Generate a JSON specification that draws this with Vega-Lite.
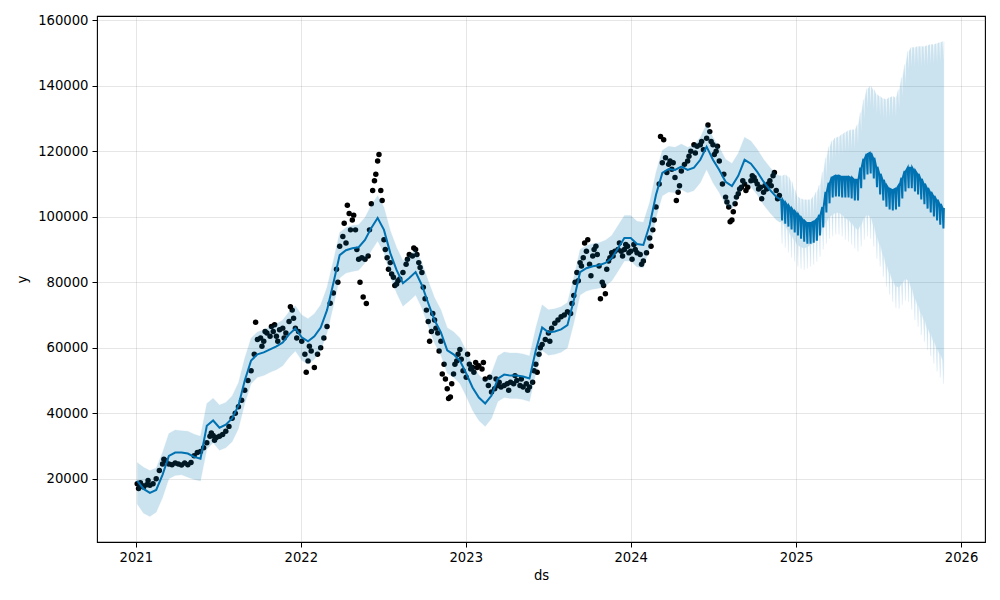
{
"$schema": "https://vega.github.io/schema/vega-lite/v6.json",
"width": 888, "height": 526,
"autosize": {"type": "none"},
"padding": {"left": 97, "top": 16, "right": 15, "bottom": 58},
"background": "white",
"config": {
  "view": {"stroke": "black", "strokeWidth": 1.1},
  "axis": {"labelFont": "DejaVu Sans", "labelFontSize": 13.2, "labelColor": "black", "titleFont": "DejaVu Sans", "titleFontSize": 13.2, "titleFontWeight": "normal", "titleColor": "black", "tickColor": "black", "tickSize": 5, "tickWidth": 1, "labelPadding": 4, "domain": false, "grid": true, "gridColor": "#808080", "gridOpacity": 0.2, "gridWidth": 1}
},
"datasets": {
"obs": [
{"ds":"2021-01-04","y":18500},{"ds":"2021-01-07","y":17000},{"ds":"2021-01-11","y":18800},{"ds":"2021-01-14","y":18000},{"ds":"2021-01-18","y":17500},{"ds":"2021-01-25","y":18200},{"ds":"2021-01-28","y":19500},
{"ds":"2021-02-01","y":18000},{"ds":"2021-02-08","y":18500},{"ds":"2021-02-15","y":20000},{"ds":"2021-02-22","y":22500},
{"ds":"2021-03-01","y":24500},{"ds":"2021-03-04","y":26000},{"ds":"2021-03-08","y":25500},{"ds":"2021-03-15","y":24500},{"ds":"2021-03-22","y":24300},{"ds":"2021-03-29","y":24800},
{"ds":"2021-04-05","y":24500},{"ds":"2021-04-12","y":24200},{"ds":"2021-04-19","y":24800},{"ds":"2021-04-26","y":24300},
{"ds":"2021-05-03","y":25000},{"ds":"2021-05-10","y":27000},{"ds":"2021-05-17","y":28000},{"ds":"2021-05-24","y":28300},{"ds":"2021-05-31","y":29500},
{"ds":"2021-06-07","y":31000},{"ds":"2021-06-14","y":33000},{"ds":"2021-06-17","y":34000},{"ds":"2021-06-21","y":33200},{"ds":"2021-06-24","y":31800},{"ds":"2021-06-28","y":32600},
{"ds":"2021-07-05","y":33000},{"ds":"2021-07-12","y":33500},{"ds":"2021-07-19","y":34500},{"ds":"2021-07-26","y":36000},
{"ds":"2021-08-02","y":38500},{"ds":"2021-08-09","y":40000},{"ds":"2021-08-16","y":42000},{"ds":"2021-08-23","y":44000},{"ds":"2021-08-30","y":47000},
{"ds":"2021-09-06","y":50000},{"ds":"2021-09-13","y":53000},{"ds":"2021-09-20","y":58000},{"ds":"2021-09-23","y":67800},{"ds":"2021-09-27","y":62500},
{"ds":"2021-10-04","y":63000},{"ds":"2021-10-07","y":60500},{"ds":"2021-10-11","y":62000},{"ds":"2021-10-14","y":65000},{"ds":"2021-10-18","y":64500},{"ds":"2021-10-25","y":63500},{"ds":"2021-10-28","y":66500},
{"ds":"2021-11-01","y":65000},{"ds":"2021-11-04","y":67000},{"ds":"2021-11-08","y":63500},{"ds":"2021-11-11","y":62000},{"ds":"2021-11-15","y":65500},{"ds":"2021-11-22","y":66000},{"ds":"2021-11-25","y":63000},{"ds":"2021-11-29","y":64500},
{"ds":"2021-12-06","y":68000},{"ds":"2021-12-09","y":72500},{"ds":"2021-12-13","y":71500},{"ds":"2021-12-16","y":69000},{"ds":"2021-12-20","y":66000},{"ds":"2021-12-23","y":63000},{"ds":"2021-12-27","y":65000},
{"ds":"2022-01-03","y":62000},{"ds":"2022-01-10","y":58000},{"ds":"2022-01-13","y":52500},{"ds":"2022-01-17","y":56000},{"ds":"2022-01-20","y":60500},{"ds":"2022-01-24","y":59000},{"ds":"2022-01-31","y":54000},
{"ds":"2022-02-07","y":58000},{"ds":"2022-02-14","y":60000},{"ds":"2022-02-21","y":63000},{"ds":"2022-02-28","y":66500},
{"ds":"2022-03-07","y":73600},{"ds":"2022-03-14","y":76700},{"ds":"2022-03-21","y":84000},{"ds":"2022-03-24","y":80000},{"ds":"2022-03-28","y":91000},
{"ds":"2022-04-04","y":94000},{"ds":"2022-04-07","y":98000},{"ds":"2022-04-11","y":92000},{"ds":"2022-04-14","y":103500},{"ds":"2022-04-18","y":101000},{"ds":"2022-04-21","y":96000},{"ds":"2022-04-25","y":99000},{"ds":"2022-04-28","y":100500},
{"ds":"2022-05-02","y":96000},{"ds":"2022-05-05","y":90000},{"ds":"2022-05-09","y":87000},{"ds":"2022-05-12","y":80000},{"ds":"2022-05-16","y":87500},{"ds":"2022-05-19","y":75500},{"ds":"2022-05-23","y":87000},{"ds":"2022-05-26","y":73500},{"ds":"2022-05-30","y":88000},
{"ds":"2022-06-02","y":96000},{"ds":"2022-06-06","y":104000},{"ds":"2022-06-09","y":108000},{"ds":"2022-06-13","y":111000},{"ds":"2022-06-16","y":113000},{"ds":"2022-06-20","y":117000},{"ds":"2022-06-23","y":119000},{"ds":"2022-06-27","y":108000},{"ds":"2022-06-30","y":105000},
{"ds":"2022-07-04","y":93000},{"ds":"2022-07-07","y":90000},{"ds":"2022-07-11","y":87500},{"ds":"2022-07-14","y":84000},{"ds":"2022-07-18","y":86000},{"ds":"2022-07-21","y":82500},{"ds":"2022-07-25","y":81500},{"ds":"2022-07-28","y":79000},
{"ds":"2022-08-01","y":79500},{"ds":"2022-08-04","y":80500},{"ds":"2022-08-08","y":81000},{"ds":"2022-08-15","y":83000},{"ds":"2022-08-22","y":85500},{"ds":"2022-08-25","y":87000},{"ds":"2022-08-29","y":88500},
{"ds":"2022-09-05","y":88000},{"ds":"2022-09-08","y":90500},{"ds":"2022-09-12","y":90000},{"ds":"2022-09-15","y":88500},{"ds":"2022-09-19","y":86000},{"ds":"2022-09-22","y":84500},{"ds":"2022-09-26","y":83000},{"ds":"2022-09-29","y":78500},
{"ds":"2022-10-03","y":75000},{"ds":"2022-10-06","y":71500},{"ds":"2022-10-10","y":68000},{"ds":"2022-10-13","y":62000},{"ds":"2022-10-17","y":65000},{"ds":"2022-10-20","y":70500},{"ds":"2022-10-24","y":68500},{"ds":"2022-10-27","y":66000},{"ds":"2022-10-31","y":64500},
{"ds":"2022-11-03","y":59000},{"ds":"2022-11-07","y":62000},{"ds":"2022-11-10","y":52000},{"ds":"2022-11-14","y":55000},{"ds":"2022-11-17","y":50500},{"ds":"2022-11-21","y":47500},{"ds":"2022-11-24","y":44500},{"ds":"2022-11-28","y":45000},
{"ds":"2022-12-01","y":49000},{"ds":"2022-12-05","y":52000},{"ds":"2022-12-08","y":55000},{"ds":"2022-12-12","y":56000},{"ds":"2022-12-15","y":58000},{"ds":"2022-12-19","y":59500},{"ds":"2022-12-22","y":56500},{"ds":"2022-12-26","y":53000},
{"ds":"2023-01-02","y":51000},{"ds":"2023-01-05","y":58000},{"ds":"2023-01-09","y":55000},{"ds":"2023-01-12","y":53500},{"ds":"2023-01-16","y":54000},{"ds":"2023-01-19","y":52500},{"ds":"2023-01-23","y":55500},{"ds":"2023-01-26","y":54000},{"ds":"2023-01-30","y":54500},
{"ds":"2023-02-06","y":53500},{"ds":"2023-02-09","y":55500},{"ds":"2023-02-13","y":50500},{"ds":"2023-02-20","y":48500},{"ds":"2023-02-23","y":51000},{"ds":"2023-02-27","y":46500},
{"ds":"2023-03-06","y":47500},{"ds":"2023-03-09","y":50500},{"ds":"2023-03-13","y":48500},{"ds":"2023-03-16","y":49500},{"ds":"2023-03-20","y":48000},{"ds":"2023-03-27","y":48500},
{"ds":"2023-04-03","y":49000},{"ds":"2023-04-06","y":47000},{"ds":"2023-04-10","y":49500},{"ds":"2023-04-17","y":49000},{"ds":"2023-04-20","y":51500},{"ds":"2023-04-24","y":50000},
{"ds":"2023-05-01","y":48500},{"ds":"2023-05-04","y":50500},{"ds":"2023-05-08","y":48000},{"ds":"2023-05-15","y":49000},{"ds":"2023-05-18","y":47000},{"ds":"2023-05-22","y":48000},{"ds":"2023-05-29","y":49500},
{"ds":"2023-06-01","y":53000},{"ds":"2023-06-05","y":55000},{"ds":"2023-06-08","y":52500},{"ds":"2023-06-12","y":58000},{"ds":"2023-06-15","y":60000},{"ds":"2023-06-19","y":61000},{"ds":"2023-06-26","y":62500},
{"ds":"2023-07-03","y":64500},{"ds":"2023-07-06","y":62000},{"ds":"2023-07-10","y":66000},{"ds":"2023-07-17","y":67500},{"ds":"2023-07-24","y":68500},{"ds":"2023-07-31","y":69500},
{"ds":"2023-08-07","y":70000},{"ds":"2023-08-14","y":71000},{"ds":"2023-08-21","y":70500},{"ds":"2023-08-24","y":73500},{"ds":"2023-08-28","y":76000},{"ds":"2023-08-31","y":80000},
{"ds":"2023-09-04","y":83000},{"ds":"2023-09-07","y":80500},{"ds":"2023-09-11","y":86000},{"ds":"2023-09-14","y":85000},{"ds":"2023-09-18","y":87500},{"ds":"2023-09-21","y":92000},{"ds":"2023-09-25","y":89500},{"ds":"2023-09-28","y":93000},
{"ds":"2023-10-02","y":85500},{"ds":"2023-10-05","y":82000},{"ds":"2023-10-09","y":88000},{"ds":"2023-10-12","y":90000},{"ds":"2023-10-16","y":91000},{"ds":"2023-10-19","y":88500},{"ds":"2023-10-23","y":85000},{"ds":"2023-10-26","y":75000},{"ds":"2023-10-30","y":80000},
{"ds":"2023-11-02","y":79000},{"ds":"2023-11-06","y":76500},{"ds":"2023-11-09","y":84000},{"ds":"2023-11-13","y":86500},{"ds":"2023-11-16","y":87500},{"ds":"2023-11-20","y":89000},{"ds":"2023-11-23","y":88000},{"ds":"2023-11-27","y":89500},
{"ds":"2023-12-04","y":90000},{"ds":"2023-12-07","y":92000},{"ds":"2023-12-11","y":89500},{"ds":"2023-12-14","y":88000},{"ds":"2023-12-18","y":90000},{"ds":"2023-12-21","y":91500},{"ds":"2023-12-25","y":91000},{"ds":"2023-12-28","y":89000},
{"ds":"2024-01-01","y":89500},{"ds":"2024-01-04","y":87000},{"ds":"2024-01-08","y":91500},{"ds":"2024-01-11","y":90000},{"ds":"2024-01-15","y":89000},{"ds":"2024-01-22","y":88500},{"ds":"2024-01-25","y":85500},{"ds":"2024-01-29","y":86500},
{"ds":"2024-02-05","y":89000},{"ds":"2024-02-12","y":93500},{"ds":"2024-02-15","y":91000},{"ds":"2024-02-19","y":96000},{"ds":"2024-02-22","y":99000},{"ds":"2024-02-26","y":103000},
{"ds":"2024-03-04","y":110000},{"ds":"2024-03-07","y":124500},{"ds":"2024-03-11","y":116500},{"ds":"2024-03-14","y":123500},{"ds":"2024-03-18","y":118000},{"ds":"2024-03-21","y":113500},{"ds":"2024-03-25","y":116000},{"ds":"2024-03-28","y":117000},
{"ds":"2024-04-01","y":114500},{"ds":"2024-04-04","y":116500},{"ds":"2024-04-08","y":112000},{"ds":"2024-04-11","y":105000},{"ds":"2024-04-15","y":107500},{"ds":"2024-04-18","y":109500},{"ds":"2024-04-22","y":114000},{"ds":"2024-04-29","y":116000},
{"ds":"2024-05-06","y":117000},{"ds":"2024-05-09","y":118500},{"ds":"2024-05-13","y":120000},{"ds":"2024-05-20","y":122000},{"ds":"2024-05-23","y":119500},{"ds":"2024-05-27","y":121500},
{"ds":"2024-06-03","y":122000},{"ds":"2024-06-06","y":123000},{"ds":"2024-06-10","y":120500},{"ds":"2024-06-17","y":124000},{"ds":"2024-06-20","y":128000},{"ds":"2024-06-24","y":126000},{"ds":"2024-06-27","y":123000},
{"ds":"2024-07-01","y":122000},{"ds":"2024-07-04","y":119000},{"ds":"2024-07-08","y":120000},{"ds":"2024-07-11","y":121500},{"ds":"2024-07-15","y":117000},{"ds":"2024-07-22","y":110000},{"ds":"2024-07-25","y":113000},{"ds":"2024-07-29","y":106000},
{"ds":"2024-08-01","y":104500},{"ds":"2024-08-05","y":103000},{"ds":"2024-08-08","y":98500},{"ds":"2024-08-12","y":99000},{"ds":"2024-08-15","y":101500},{"ds":"2024-08-19","y":104000},{"ds":"2024-08-22","y":106000},{"ds":"2024-08-26","y":107000},{"ds":"2024-08-29","y":108500},
{"ds":"2024-09-02","y":109000},{"ds":"2024-09-05","y":111000},{"ds":"2024-09-09","y":110000},{"ds":"2024-09-12","y":108000},{"ds":"2024-09-16","y":109000},{"ds":"2024-09-23","y":111000},{"ds":"2024-09-26","y":112500},{"ds":"2024-09-30","y":112000},
{"ds":"2024-10-03","y":111000},{"ds":"2024-10-07","y":110000},{"ds":"2024-10-10","y":108500},{"ds":"2024-10-14","y":109000},{"ds":"2024-10-17","y":105500},{"ds":"2024-10-21","y":107500},{"ds":"2024-10-24","y":109500},{"ds":"2024-10-28","y":108500},
{"ds":"2024-10-31","y":110000},{"ds":"2024-11-04","y":111000},{"ds":"2024-11-07","y":109500},{"ds":"2024-11-11","y":112500},{"ds":"2024-11-14","y":113500},{"ds":"2024-11-18","y":108000},{"ds":"2024-11-21","y":105500},{"ds":"2024-11-25","y":106500}
],
"fc": [
{"ds":"2021-01-04","yhat":19400,"lo":12300,"hi":25000},{"ds":"2021-01-18","yhat":16900,"lo":9500,"hi":23500},{"ds":"2021-02-01","yhat":15700,"lo":8500,"hi":22500},{"ds":"2021-02-15","yhat":16600,"lo":9800,"hi":23300},
{"ds":"2021-03-01","yhat":21200,"lo":14200,"hi":28000},{"ds":"2021-03-15","yhat":27000,"lo":20000,"hi":33800},{"ds":"2021-03-29","yhat":28000,"lo":21000,"hi":34900},{"ds":"2021-04-12","yhat":28000,"lo":21200,"hi":34700},
{"ds":"2021-04-26","yhat":27700,"lo":20500,"hi":34500},{"ds":"2021-05-10","yhat":26700,"lo":19800,"hi":33600},{"ds":"2021-05-24","yhat":26100,"lo":19300,"hi":33000},{"ds":"2021-06-07","yhat":36200,"lo":29000,"hi":43000},
{"ds":"2021-06-21","yhat":37800,"lo":31000,"hi":44600},{"ds":"2021-07-05","yhat":35600,"lo":28700,"hi":42500},{"ds":"2021-07-19","yhat":36500,"lo":29500,"hi":43300},{"ds":"2021-08-02","yhat":38400,"lo":31300,"hi":45300},
{"ds":"2021-08-16","yhat":42400,"lo":35300,"hi":49300},{"ds":"2021-08-30","yhat":50000,"lo":43000,"hi":56900},{"ds":"2021-09-13","yhat":56100,"lo":49000,"hi":63000},{"ds":"2021-09-27","yhat":58000,"lo":51000,"hi":64800},
{"ds":"2021-10-11","yhat":58600,"lo":51500,"hi":65500},{"ds":"2021-10-25","yhat":59500,"lo":52500,"hi":66400},{"ds":"2021-11-08","yhat":60400,"lo":53300,"hi":67300},{"ds":"2021-11-22","yhat":61600,"lo":54500,"hi":68500},
{"ds":"2021-12-06","yhat":64100,"lo":57000,"hi":71000},{"ds":"2021-12-20","yhat":65900,"lo":59000,"hi":72800},{"ds":"2022-01-03","yhat":63200,"lo":56200,"hi":70000},{"ds":"2022-01-17","yhat":62000,"lo":55000,"hi":68900},
{"ds":"2022-01-31","yhat":63500,"lo":56500,"hi":70400},{"ds":"2022-02-14","yhat":66200,"lo":59200,"hi":73100},{"ds":"2022-02-28","yhat":71500,"lo":64500,"hi":78500},{"ds":"2022-03-14","yhat":79700,"lo":72700,"hi":86600},
{"ds":"2022-03-28","yhat":88300,"lo":81300,"hi":95200},{"ds":"2022-04-11","yhat":89800,"lo":82800,"hi":96700},{"ds":"2022-04-25","yhat":90400,"lo":83300,"hi":97300},{"ds":"2022-05-09","yhat":90700,"lo":83700,"hi":97600},
{"ds":"2022-05-23","yhat":92900,"lo":85900,"hi":99800},{"ds":"2022-06-06","yhat":96600,"lo":89600,"hi":103500},{"ds":"2022-06-20","yhat":99600,"lo":92600,"hi":106500},{"ds":"2022-07-04","yhat":96000,"lo":89000,"hi":102900},
{"ds":"2022-07-18","yhat":88900,"lo":81900,"hi":95800},{"ds":"2022-08-01","yhat":83700,"lo":76700,"hi":90600},{"ds":"2022-08-15","yhat":79700,"lo":72700,"hi":86600},{"ds":"2022-08-29","yhat":81300,"lo":74300,"hi":88200},
{"ds":"2022-09-12","yhat":83100,"lo":76100,"hi":90000},{"ds":"2022-09-26","yhat":79100,"lo":72100,"hi":86000},{"ds":"2022-10-10","yhat":73600,"lo":66600,"hi":80500},{"ds":"2022-10-24","yhat":68400,"lo":61400,"hi":75300},
{"ds":"2022-11-07","yhat":64700,"lo":57700,"hi":71600},{"ds":"2022-11-21","yhat":59200,"lo":52200,"hi":66100},{"ds":"2022-12-05","yhat":58000,"lo":51000,"hi":64900},{"ds":"2022-12-19","yhat":56100,"lo":49100,"hi":63000},
{"ds":"2023-01-02","yhat":52200,"lo":45200,"hi":59100},{"ds":"2023-01-16","yhat":47900,"lo":40900,"hi":54800},{"ds":"2023-01-30","yhat":44800,"lo":37800,"hi":51700},{"ds":"2023-02-13","yhat":43000,"lo":36000,"hi":49900},
{"ds":"2023-02-27","yhat":45400,"lo":38400,"hi":52300},{"ds":"2023-03-13","yhat":50600,"lo":43600,"hi":57500},{"ds":"2023-03-27","yhat":51800,"lo":44800,"hi":58700},{"ds":"2023-04-10","yhat":51500,"lo":44500,"hi":58400},
{"ds":"2023-04-24","yhat":51500,"lo":44500,"hi":58400},{"ds":"2023-05-08","yhat":51200,"lo":44200,"hi":58100},{"ds":"2023-05-22","yhat":50600,"lo":43600,"hi":57500},{"ds":"2023-06-05","yhat":59200,"lo":52200,"hi":66100},
{"ds":"2023-06-19","yhat":66200,"lo":59200,"hi":73100},{"ds":"2023-07-03","yhat":64700,"lo":57700,"hi":71600},{"ds":"2023-07-17","yhat":65000,"lo":58000,"hi":71900},{"ds":"2023-07-31","yhat":65600,"lo":58600,"hi":72500},
{"ds":"2023-08-14","yhat":66900,"lo":59900,"hi":73800},{"ds":"2023-08-28","yhat":74500,"lo":67500,"hi":81400},{"ds":"2023-09-11","yhat":83100,"lo":76100,"hi":90000},{"ds":"2023-09-25","yhat":84300,"lo":77300,"hi":91200},
{"ds":"2023-10-09","yhat":84900,"lo":77900,"hi":91800},{"ds":"2023-10-23","yhat":85200,"lo":78200,"hi":92100},{"ds":"2023-11-06","yhat":85900,"lo":78900,"hi":92800},{"ds":"2023-11-20","yhat":87400,"lo":80400,"hi":94300},
{"ds":"2023-12-04","yhat":90400,"lo":83400,"hi":97300},{"ds":"2023-12-18","yhat":93500,"lo":86500,"hi":100400},{"ds":"2024-01-01","yhat":93500,"lo":86500,"hi":100400},{"ds":"2024-01-15","yhat":91700,"lo":84700,"hi":98600},
{"ds":"2024-01-29","yhat":91400,"lo":84400,"hi":98300},{"ds":"2024-02-12","yhat":97500,"lo":90500,"hi":104400},{"ds":"2024-02-26","yhat":106700,"lo":99700,"hi":113600},{"ds":"2024-03-11","yhat":113400,"lo":106400,"hi":120300},
{"ds":"2024-03-25","yhat":114600,"lo":107600,"hi":121500},{"ds":"2024-04-08","yhat":114300,"lo":107300,"hi":121200},{"ds":"2024-04-22","yhat":115300,"lo":108300,"hi":122200},{"ds":"2024-05-06","yhat":114300,"lo":107300,"hi":121200},
{"ds":"2024-05-20","yhat":115000,"lo":108000,"hi":121900},{"ds":"2024-06-03","yhat":117400,"lo":110400,"hi":124300},{"ds":"2024-06-17","yhat":121400,"lo":114400,"hi":128300},{"ds":"2024-07-01","yhat":117400,"lo":110400,"hi":124300},
{"ds":"2024-07-15","yhat":114300,"lo":107300,"hi":121200},{"ds":"2024-07-29","yhat":110700,"lo":103700,"hi":117600},{"ds":"2024-08-12","yhat":109400,"lo":102400,"hi":116300},{"ds":"2024-08-26","yhat":112500,"lo":105500,"hi":119400},
{"ds":"2024-09-09","yhat":117400,"lo":110400,"hi":124300},{"ds":"2024-09-23","yhat":116200,"lo":109200,"hi":123100},{"ds":"2024-10-07","yhat":113700,"lo":106700,"hi":120600},{"ds":"2024-10-21","yhat":110700,"lo":103700,"hi":117600},
{"ds":"2024-11-04","yhat":108200,"lo":101200,"hi":115100},{"ds":"2024-11-18","yhat":106100,"lo":99100,"hi":113000},{"ds":"2024-11-25","yhat":105500,"lo":98400,"hi":112500},
{"ds":"2024-11-29","yhat":105200,"lo":98400,"hi":112500},{"ds":"2024-12-01","yhat":98900,"lo":91800,"hi":106400},{"ds":"2024-12-02","yhat":105200,"lo":98400,"hi":112500},
{"ds":"2024-12-06","yhat":104200,"lo":97200,"hi":112800},{"ds":"2024-12-08","yhat":97900,"lo":90600,"hi":106700},{"ds":"2024-12-09","yhat":104200,"lo":97200,"hi":112800},
{"ds":"2024-12-13","yhat":103300,"lo":95700,"hi":112200},{"ds":"2024-12-15","yhat":97000,"lo":89100,"hi":106100},{"ds":"2024-12-16","yhat":103300,"lo":95700,"hi":112200},
{"ds":"2024-12-20","yhat":102400,"lo":94100,"hi":110700},{"ds":"2024-12-22","yhat":96100,"lo":87500,"hi":104600},{"ds":"2024-12-23","yhat":102400,"lo":94100,"hi":110700},
{"ds":"2024-12-27","yhat":101500,"lo":92900,"hi":108200},{"ds":"2024-12-29","yhat":95200,"lo":86300,"hi":102100},{"ds":"2024-12-30","yhat":101500,"lo":92900,"hi":108200},
{"ds":"2025-01-03","yhat":100600,"lo":91400,"hi":106100},{"ds":"2025-01-05","yhat":94300,"lo":84800,"hi":100000},{"ds":"2025-01-06","yhat":100600,"lo":91400,"hi":106100},
{"ds":"2025-01-10","yhat":99600,"lo":90800,"hi":105500},{"ds":"2025-01-12","yhat":93300,"lo":84200,"hi":99400},{"ds":"2025-01-13","yhat":99600,"lo":90800,"hi":105500},
{"ds":"2025-01-17","yhat":98700,"lo":90400,"hi":105200},{"ds":"2025-01-19","yhat":92400,"lo":83800,"hi":99100},{"ds":"2025-01-20","yhat":98700,"lo":90400,"hi":105200},
{"ds":"2025-01-24","yhat":98100,"lo":90800,"hi":105200},{"ds":"2025-01-26","yhat":91800,"lo":84200,"hi":99100},{"ds":"2025-01-27","yhat":98100,"lo":90800,"hi":105200},
{"ds":"2025-01-31","yhat":98100,"lo":91400,"hi":105200},{"ds":"2025-02-02","yhat":91800,"lo":84800,"hi":99100},{"ds":"2025-02-03","yhat":98100,"lo":91400,"hi":105200},
{"ds":"2025-02-07","yhat":98400,"lo":92000,"hi":106100},{"ds":"2025-02-09","yhat":92100,"lo":85400,"hi":100000},{"ds":"2025-02-10","yhat":98400,"lo":92000,"hi":106100},
{"ds":"2025-02-14","yhat":99000,"lo":92900,"hi":107600},{"ds":"2025-02-16","yhat":92700,"lo":86300,"hi":101500},{"ds":"2025-02-17","yhat":99000,"lo":92900,"hi":107600},
{"ds":"2025-02-21","yhat":100600,"lo":94400,"hi":109700},{"ds":"2025-02-23","yhat":94300,"lo":87800,"hi":103600},{"ds":"2025-02-24","yhat":100600,"lo":94400,"hi":109700},
{"ds":"2025-02-28","yhat":103000,"lo":96600,"hi":113700},{"ds":"2025-03-02","yhat":96700,"lo":90000,"hi":107600},{"ds":"2025-03-03","yhat":103000,"lo":96600,"hi":113700},
{"ds":"2025-03-07","yhat":107600,"lo":98400,"hi":118000},{"ds":"2025-03-09","yhat":101300,"lo":91800,"hi":111900},{"ds":"2025-03-10","yhat":107600,"lo":98400,"hi":118000},
{"ds":"2025-03-14","yhat":110400,"lo":99900,"hi":121400},{"ds":"2025-03-16","yhat":104100,"lo":93300,"hi":115300},{"ds":"2025-03-17","yhat":110400,"lo":99900,"hi":121400},
{"ds":"2025-03-21","yhat":112200,"lo":100600,"hi":123200},{"ds":"2025-03-23","yhat":105900,"lo":94000,"hi":117100},{"ds":"2025-03-24","yhat":112200,"lo":100600,"hi":123200},
{"ds":"2025-03-28","yhat":112500,"lo":101200,"hi":124100},{"ds":"2025-03-30","yhat":106200,"lo":94600,"hi":118000},{"ds":"2025-03-31","yhat":112500,"lo":101200,"hi":124100},
{"ds":"2025-04-04","yhat":112500,"lo":101200,"hi":124400},{"ds":"2025-04-06","yhat":106200,"lo":94600,"hi":118300},{"ds":"2025-04-07","yhat":112500,"lo":101200,"hi":124400},
{"ds":"2025-04-11","yhat":112200,"lo":100600,"hi":125100},{"ds":"2025-04-13","yhat":105900,"lo":94000,"hi":119000},{"ds":"2025-04-14","yhat":112200,"lo":100600,"hi":125100},
{"ds":"2025-04-18","yhat":112200,"lo":99600,"hi":125700},{"ds":"2025-04-20","yhat":105900,"lo":93000,"hi":119600},{"ds":"2025-04-21","yhat":112200,"lo":99600,"hi":125700},
{"ds":"2025-04-25","yhat":112200,"lo":99000,"hi":126300},{"ds":"2025-04-27","yhat":105900,"lo":92400,"hi":120200},{"ds":"2025-04-28","yhat":112200,"lo":99000,"hi":126300},
{"ds":"2025-05-02","yhat":111900,"lo":98100,"hi":126600},{"ds":"2025-05-04","yhat":105600,"lo":91500,"hi":120500},{"ds":"2025-05-05","yhat":111900,"lo":98100,"hi":126600},
{"ds":"2025-05-09","yhat":111300,"lo":96900,"hi":126600},{"ds":"2025-05-11","yhat":105000,"lo":90300,"hi":120500},{"ds":"2025-05-12","yhat":111300,"lo":96900,"hi":126600},
{"ds":"2025-05-16","yhat":111300,"lo":96000,"hi":128100},{"ds":"2025-05-18","yhat":105000,"lo":89400,"hi":122000},{"ds":"2025-05-19","yhat":111300,"lo":96000,"hi":128100},
{"ds":"2025-05-23","yhat":115000,"lo":97500,"hi":131800},{"ds":"2025-05-25","yhat":108700,"lo":90900,"hi":125700},{"ds":"2025-05-26","yhat":115000,"lo":97500,"hi":131800},
{"ds":"2025-05-30","yhat":117700,"lo":99600,"hi":135800},{"ds":"2025-06-01","yhat":111400,"lo":93000,"hi":129700},{"ds":"2025-06-02","yhat":117700,"lo":99600,"hi":135800},
{"ds":"2025-06-06","yhat":119200,"lo":100600,"hi":139100},{"ds":"2025-06-08","yhat":112900,"lo":94000,"hi":133000},{"ds":"2025-06-09","yhat":119200,"lo":100600,"hi":139100},
{"ds":"2025-06-13","yhat":119500,"lo":99900,"hi":139800},{"ds":"2025-06-15","yhat":113200,"lo":93300,"hi":133700},{"ds":"2025-06-16","yhat":119500,"lo":99900,"hi":139800},
{"ds":"2025-06-20","yhat":118000,"lo":97500,"hi":138800},{"ds":"2025-06-22","yhat":111700,"lo":90900,"hi":132700},{"ds":"2025-06-23","yhat":118000,"lo":97500,"hi":138800},
{"ds":"2025-06-27","yhat":115300,"lo":93800,"hi":137300},{"ds":"2025-06-29","yhat":109000,"lo":87200,"hi":131200},{"ds":"2025-06-30","yhat":115300,"lo":93800,"hi":137300},
{"ds":"2025-07-04","yhat":113100,"lo":91400,"hi":136700},{"ds":"2025-07-06","yhat":106800,"lo":84800,"hi":130600},{"ds":"2025-07-07","yhat":113100,"lo":91400,"hi":136700},
{"ds":"2025-07-11","yhat":111300,"lo":88300,"hi":136100},{"ds":"2025-07-13","yhat":105000,"lo":81700,"hi":130000},{"ds":"2025-07-14","yhat":111300,"lo":88300,"hi":136100},
{"ds":"2025-07-18","yhat":109400,"lo":85200,"hi":135800},{"ds":"2025-07-20","yhat":103100,"lo":78600,"hi":129700},{"ds":"2025-07-21","yhat":109400,"lo":85200,"hi":135800},
{"ds":"2025-07-25","yhat":108500,"lo":82800,"hi":136400},{"ds":"2025-07-27","yhat":102200,"lo":76200,"hi":130300},{"ds":"2025-07-28","yhat":108500,"lo":82800,"hi":136400},
{"ds":"2025-08-01","yhat":108200,"lo":80600,"hi":136700},{"ds":"2025-08-03","yhat":101900,"lo":74000,"hi":130600},{"ds":"2025-08-04","yhat":108200,"lo":80600,"hi":136700},
{"ds":"2025-08-08","yhat":108500,"lo":78800,"hi":136400},{"ds":"2025-08-10","yhat":102200,"lo":72200,"hi":130300},{"ds":"2025-08-11","yhat":108500,"lo":78800,"hi":136400},
{"ds":"2025-08-15","yhat":109400,"lo":78500,"hi":138800},{"ds":"2025-08-17","yhat":103100,"lo":71900,"hi":132700},{"ds":"2025-08-18","yhat":109400,"lo":78500,"hi":138800},
{"ds":"2025-08-22","yhat":111900,"lo":79700,"hi":142500},{"ds":"2025-08-24","yhat":105600,"lo":73100,"hi":136400},{"ds":"2025-08-25","yhat":111900,"lo":79700,"hi":142500},
{"ds":"2025-08-29","yhat":114000,"lo":81000,"hi":146500},{"ds":"2025-08-31","yhat":107700,"lo":74400,"hi":140400},{"ds":"2025-09-01","yhat":114000,"lo":81000,"hi":146500},
{"ds":"2025-09-05","yhat":115000,"lo":80600,"hi":150500},{"ds":"2025-09-07","yhat":108700,"lo":74000,"hi":144400},{"ds":"2025-09-08","yhat":115000,"lo":80600,"hi":150500},
{"ds":"2025-09-12","yhat":115000,"lo":78200,"hi":151700},{"ds":"2025-09-14","yhat":108700,"lo":71600,"hi":145600},{"ds":"2025-09-15","yhat":115000,"lo":78200,"hi":151700},
{"ds":"2025-09-19","yhat":114000,"lo":75100,"hi":151700},{"ds":"2025-09-21","yhat":107700,"lo":68500,"hi":145600},{"ds":"2025-09-22","yhat":114000,"lo":75100,"hi":151700},
{"ds":"2025-09-26","yhat":113100,"lo":73000,"hi":152000},{"ds":"2025-09-28","yhat":106800,"lo":66400,"hi":145900},{"ds":"2025-09-29","yhat":113100,"lo":73000,"hi":152000},
{"ds":"2025-10-03","yhat":111600,"lo":70500,"hi":152000},{"ds":"2025-10-05","yhat":105300,"lo":63900,"hi":145900},{"ds":"2025-10-06","yhat":111600,"lo":70500,"hi":152000},
{"ds":"2025-10-10","yhat":110100,"lo":68400,"hi":152000},{"ds":"2025-10-12","yhat":103800,"lo":61800,"hi":145900},{"ds":"2025-10-13","yhat":110100,"lo":68400,"hi":152000},
{"ds":"2025-10-17","yhat":108800,"lo":65900,"hi":152300},{"ds":"2025-10-19","yhat":102500,"lo":59300,"hi":146200},{"ds":"2025-10-20","yhat":108800,"lo":65900,"hi":152300},
{"ds":"2025-10-24","yhat":107600,"lo":64100,"hi":152600},{"ds":"2025-10-26","yhat":101300,"lo":57500,"hi":146500},{"ds":"2025-10-27","yhat":107600,"lo":64100,"hi":152600},
{"ds":"2025-10-31","yhat":106400,"lo":62000,"hi":152600},{"ds":"2025-11-02","yhat":100100,"lo":55200,"hi":146500},{"ds":"2025-11-03","yhat":106400,"lo":62000,"hi":152600},
{"ds":"2025-11-07","yhat":105200,"lo":59800,"hi":152900},{"ds":"2025-11-09","yhat":98900,"lo":52800,"hi":146800},{"ds":"2025-11-10","yhat":105200,"lo":59800,"hi":152900},
{"ds":"2025-11-14","yhat":103900,"lo":58000,"hi":153200},{"ds":"2025-11-16","yhat":97600,"lo":50900,"hi":147100},{"ds":"2025-11-17","yhat":103900,"lo":58000,"hi":153200},
{"ds":"2025-11-21","yhat":102700,"lo":56100,"hi":153500},{"ds":"2025-11-23","yhat":96400,"lo":49000,"hi":147400},{"ds":"2025-11-24","yhat":102700,"lo":56100,"hi":153500}
]
},
"encoding": {
  "x": {"field": "ds", "type": "temporal", "title": "ds",
        "scale": {"domain": [{"year": 2020, "month": 10, "date": 7}, {"year": 2026, "month": 2, "date": 23}]},
        "axis": {"values": [{"year": 2021, "month": 1, "date": 1}, {"year": 2022, "month": 1, "date": 1}, {"year": 2023, "month": 1, "date": 1}, {"year": 2024, "month": 1, "date": 1}, {"year": 2025, "month": 1, "date": 1}, {"year": 2026, "month": 1, "date": 1}], "format": "%Y", "titlePadding": 6}}
},
"layer": [
  {"data": {"name": "obs"},
   "mark": {"type": "circle", "size": 30, "color": "black", "opacity": 1},
   "encoding": {"y": {"field": "y", "type": "quantitative", "title": "y",
       "scale": {"domain": [700, 161300], "nice": false, "zero": false},
       "axis": {"values": [20000, 40000, 60000, 80000, 100000, 120000, 140000, 160000], "format": "d", "titlePadding": 8}}}},
  {"data": {"name": "fc"},
   "mark": {"type": "line", "color": "#0072B2", "strokeWidth": 2},
   "encoding": {"y": {"field": "yhat", "type": "quantitative"}}},
  {"data": {"name": "fc"},
   "mark": {"type": "area", "color": "#0072B2", "opacity": 0.2, "stroke": "#0072B2", "strokeWidth": 1, "strokeOpacity": 0.25},
   "encoding": {"y": {"field": "lo", "type": "quantitative"}, "y2": {"field": "hi"}}}
]
}
